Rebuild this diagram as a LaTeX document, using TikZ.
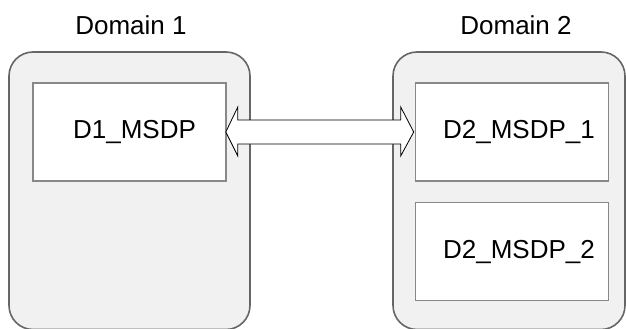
\documentclass[tikz,border=0pt]{standalone}
\usepackage{fontspec}
\setmainfont{Liberation Sans}
\usetikzlibrary{calc}
\definecolor{contfill}{HTML}{F1F1F1}
\definecolor{contline}{HTML}{666666}
\definecolor{boxline}{HTML}{888888}
\tikzset{
  container/.style={draw=contline, fill=contfill, line width=1.6pt, rounded corners=24pt},
  msdpbox/.style={draw=boxline, fill=white, line width=1.6pt, minimum width=193pt, minimum height=98pt, inner sep=0pt},
  lbl/.style={font=\fontsize{26pt}{30pt}\selectfont, inner sep=0pt},
  bigarrow/.style={draw=black, fill=white, line width=0.8pt, line join=miter}
}
\begin{document}
\begin{tikzpicture}[x=1pt,y=-1pt]
\useasboundingbox (0,0) rectangle (626,329);
\begin{scope}
\clip (0,0) rectangle (626,329);
\draw[container] (9,52) rectangle (250,329.5);
\draw[container] (393,52) rectangle (625,329.5);
\end{scope}
\node[msdpbox] (d1) at (129.5,132) {};
\node[msdpbox] (d21) at (512,132) {};
\node[msdpbox] (d22) at (512,251.5) {};
\node[lbl] (t1) at (134.5,132) {D1\_MSDP};
\node[lbl] (t21) at (519,132) {D2\_MSDP\_1};
\node[lbl] (t22) at (519,252) {D2\_MSDP\_2};
\node[lbl] (dom1) at (131,25) {Domain 1};
\node[lbl] (dom2) at (516,25) {Domain 2};
\coordinate (la) at ($(d1.east)+(-1,0)$);
\coordinate (ra) at ($(d21.west)+(-1,0)$);
\draw[bigarrow] (la) -- ($(la)+(12,-25)$) -- ($(la)+(12,-12)$) -- ($(ra)+(-13,-12)$) -- ($(ra)+(-13,-25)$) -- (ra)
  -- ($(ra)+(-13,24)$) -- ($(ra)+(-13,12)$) -- ($(la)+(12,12)$) -- ($(la)+(12,24)$) -- cycle;
\end{tikzpicture}
\end{document}
